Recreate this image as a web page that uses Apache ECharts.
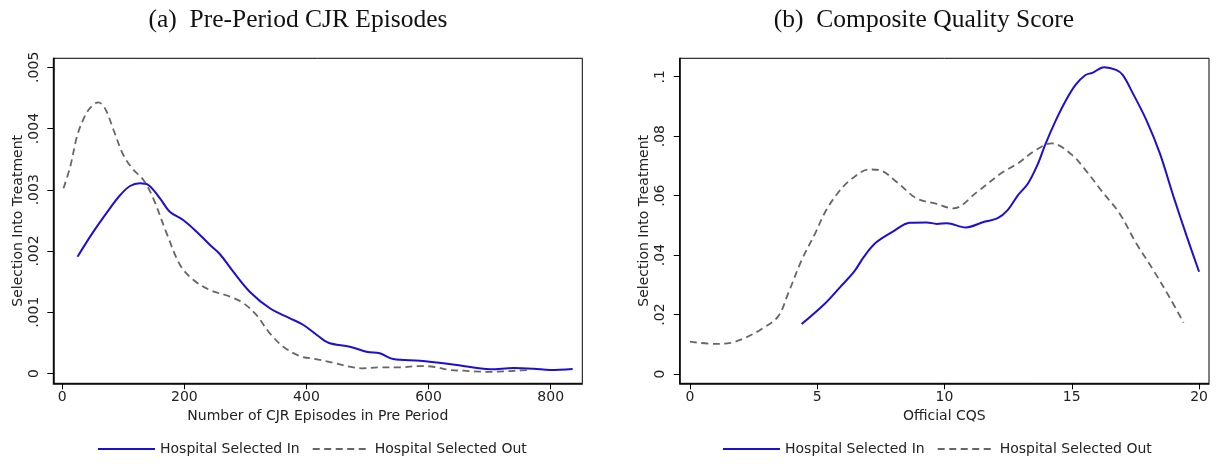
<!DOCTYPE html>
<html><head><meta charset="utf-8">
<script src="https://cdn.jsdelivr.net/npm/echarts@6/dist/echarts.min.js"></script>
<style>html,body{margin:0;padding:0;background:#fff}#c{width:1222px;height:464px}</style>
</head><body><div id="c"></div>
<script>
const titleA = '(a)  Pre-Period CJR Episodes';
const titleB = '(b)  Composite Quality Score';
const seriesNames = ['Hospital Selected In', 'Hospital Selected Out'];
const yTitle = 'Selection Into Treatment';
const xTitleA = 'Number of CJR Episodes in Pre Period';
const xTitleB = 'Official CQS';

const ticksAX = [0, 200, 400, 600, 800];
const ticksAY = [0, 0.001, 0.002, 0.003, 0.004, 0.005];
const ticksBX = [0, 5, 10, 15, 20];
const ticksBY = [0, 0.02, 0.04, 0.06, 0.08, 0.1];

const aInX = [25, 51, 78, 95, 111, 127, 141, 160, 176, 198, 220, 242, 258, 280, 307, 340, 373, 395, 417, 436, 471, 500, 520, 542, 586, 646, 701, 739, 772, 799, 836];
const aInY = [0.001907, 0.002316, 0.002697, 0.002915, 0.003062, 0.003106, 0.003078, 0.002861, 0.002642, 0.002507, 0.002316, 0.002098, 0.001951, 0.001662, 0.001336, 0.001065, 0.000901, 0.000792, 0.000629, 0.000503, 0.000438, 0.000350, 0.000330, 0.000237, 0.000209, 0.000139, 0.000069, 0.000090, 0.000078, 0.000057, 0.000073];

const aOutX = [2, 13, 24, 34, 45, 59, 70, 84, 100, 116, 133, 149, 171, 193, 215, 242, 275, 297, 318, 340, 362, 389, 417, 444, 471, 490, 520, 553, 586, 608, 635, 657, 684, 700, 722, 744, 763];
const aOutY = [0.003024, 0.003377, 0.003867, 0.004139, 0.004330, 0.004428, 0.004330, 0.003976, 0.003568, 0.003334, 0.003160, 0.002861, 0.002289, 0.001772, 0.001527, 0.001363, 0.001254, 0.001146, 0.000955, 0.000656, 0.000438, 0.000286, 0.000232, 0.000176, 0.000111, 0.000085, 0.000100, 0.000100, 0.000122, 0.000110, 0.000057, 0.000046, 0.000030, 0.000025, 0.000035, 0.000046, 0.000057];

const bInX = [4.39, 5.32, 5.92, 6.45, 6.84, 7.31, 7.97, 8.64, 9.30, 9.70, 10.10, 10.83, 11.56, 12.09, 12.49, 12.89, 13.28, 13.68, 13.95, 14.35, 14.74, 15.14, 15.54, 15.81, 16.27, 16.74, 17.0, 17.4, 17.93, 18.46, 19.0, 19.52, 20.0];
const bInY = [0.0168, 0.0238, 0.0294, 0.0344, 0.0395, 0.0442, 0.0479, 0.0509, 0.0510, 0.0505, 0.0507, 0.0493, 0.0512, 0.0524, 0.0552, 0.0602, 0.0641, 0.0709, 0.0770, 0.0849, 0.0916, 0.0972, 0.1006, 0.1013, 0.1032, 0.1023, 0.1006, 0.0944, 0.0854, 0.0742, 0.0596, 0.0462, 0.0344];

const bOutX = [0.0, 1.0, 1.6, 2.13, 2.79, 3.46, 3.86, 4.39, 4.92, 5.32, 5.85, 6.38, 7.04, 7.44, 8.11, 8.9, 9.7, 10.34, 11.29, 12.22, 12.89, 13.55, 14.21, 15.01, 15.54, 16.2, 16.87, 17.53, 18.2, 18.86, 19.39];
const bOutY = [0.0109, 0.0101, 0.0105, 0.0120, 0.0150, 0.0193, 0.0271, 0.0383, 0.0473, 0.0546, 0.0613, 0.0658, 0.0688, 0.0686, 0.0647, 0.0591, 0.0572, 0.0557, 0.0613, 0.0675, 0.0709, 0.0751, 0.0776, 0.0737, 0.0686, 0.0613, 0.0541, 0.0440, 0.0350, 0.0255, 0.0173];

const zip = (xs, ys) => xs.map((x, i) => [x, ys[i]]);
const FONT = 'DejaVu Sans';
const fmtY = v => v === 0 ? '0' : String(v).replace(/^0/, '');
const BLUE = '#1c0fd2', GRAY = '#666666';

function xAxis(gi, min, max, ticks, name) {
  return {
    type: 'value', gridIndex: gi, min, max,
    name, nameLocation: 'middle', nameGap: 19,
    nameTextStyle: { fontFamily: FONT, fontSize: 14, color: '#222' },
    axisLine: { show: true, onZero: false, lineStyle: { color: '#000', width: 1.5 } },
    axisTick: { show: true, length: 6, customValues: ticks, lineStyle: { color: '#000', width: 1 } },
    axisLabel: { customValues: ticks, fontFamily: FONT, fontSize: 14, color: '#222', margin: 7 },
    splitLine: { show: false }
  };
}
function yAxis(gi, min, max, ticks) {
  return {
    type: 'value', gridIndex: gi, min, max,
    name: yTitle, nameLocation: 'middle', nameGap: 28, nameRotate: 90,
    nameTextStyle: { fontFamily: FONT, fontSize: 14, color: '#222' },
    axisLine: { show: true, onZero: false, lineStyle: { color: '#000', width: 1.5 } },
    axisTick: { show: true, length: 6, customValues: ticks, lineStyle: { color: '#000', width: 1 } },
    axisLabel: { customValues: ticks, formatter: fmtY, rotate: 90, fontFamily: FONT, fontSize: 14, color: '#222', margin: 12 },
    splitLine: { show: false }
  };
}
function line(name, data, gi, color, dashed) {
  return {
    type: 'line', name, data, xAxisIndex: gi, yAxisIndex: gi,
    symbol: 'none', showSymbol: false, smooth: 0.35, animation: false,
    lineStyle: { color, width: dashed ? 1.8 : 2, type: dashed ? [7, 4.5] : 'solid' },
    itemStyle: { color }
  };
}
function legend(left) {
  return {
    left, top: 437, itemWidth: 57, itemHeight: 14, itemGap: 12, data: seriesNames,
    itemStyle: { opacity: 0, borderWidth: 0 },
    textStyle: { fontFamily: FONT, fontSize: 14, color: '#222' }
  };
}

const chart = echarts.init(document.getElementById('c'), null, { renderer: 'canvas' });
chart.setOption({
  animation: false,
  backgroundColor: '#fff',
  title: [
    { text: titleA, left: 293, top: 2, textAlign: 'center', textStyle: { fontFamily: 'Liberation Serif', fontSize: 25.5, fontWeight: 'normal', color: '#111' } },
    { text: titleB, left: 919, top: 2, textAlign: 'center', textStyle: { fontFamily: 'Liberation Serif', fontSize: 25.5, fontWeight: 'normal', color: '#111' } }
  ],
  grid: [
    { left: 53.3, top: 58.3, width: 529, height: 325, show: true, borderColor: '#000', borderWidth: 1, containLabel: false },
    { left: 679.7, top: 58.3, width: 529.3, height: 325, show: true, borderColor: '#000', borderWidth: 1, containLabel: false }
  ],
  xAxis: [
    xAxis(0, -14.7, 851.8, ticksAX, xTitleA),
    xAxis(1, -0.4, 20.39, ticksBX, xTitleB)
  ],
  yAxis: [
    yAxis(0, -0.00016, 0.005147, ticksAY),
    yAxis(1, -0.00313, 0.1062, ticksBY)
  ],
  legend: [legend(92), legend(717)],
  series: [
    line(seriesNames[0], zip(aInX, aInY), 0, BLUE, false),
    line(seriesNames[1], zip(aOutX, aOutY), 0, GRAY, true),
    line(seriesNames[0], zip(bInX, bInY), 1, BLUE, false),
    line(seriesNames[1], zip(bOutX, bOutY), 1, GRAY, true)
  ]
});
</script></body></html>
